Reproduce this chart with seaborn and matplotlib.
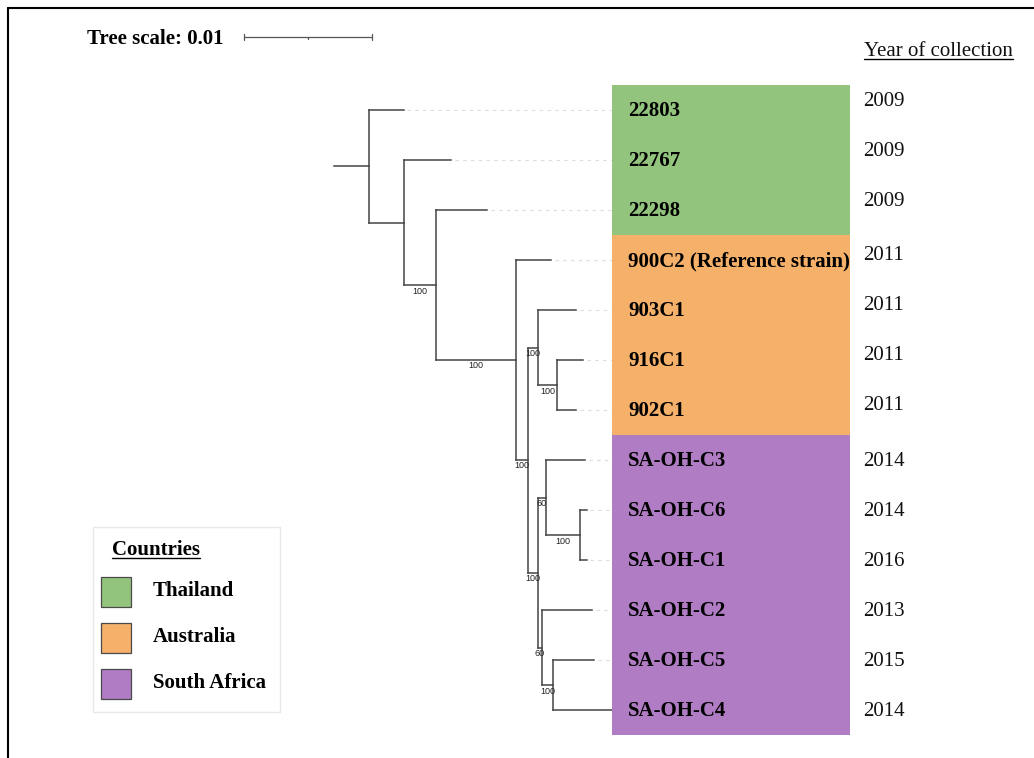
import numpy as np
import pandas as pd
import matplotlib
matplotlib.use("Agg")
import matplotlib.pyplot as plt
from matplotlib.transforms import Affine2D
from matplotlib.patches import Rectangle
from matplotlib.lines import Line2D
import seaborn as sns

# ---------------- tree: parent / branch-length table (tips in drawing order) ----------------
node_ids = ["n0", "22803", "n1", "22767", "n2", "22298", "n3",
            "900C2 (Reference strain)", "n4", "n5", "903C1", "n6", "916C1", "902C1",
            "n7", "n8", "SA-OH-C3", "n9", "SA-OH-C6", "SA-OH-C1",
            "n10", "SA-OH-C2", "n11", "SA-OH-C5", "SA-OH-C4"]
node_parent = [None, "n0", "n0", "n1", "n1", "n2", "n2",
               "n3", "n3", "n4", "n5", "n5", "n6", "n6",
               "n4", "n7", "n8", "n8", "n9", "n9",
               "n7", "n10", "n10", "n11", "n11"]
branch_length = [0.0027, 0.0027, 0.0027, 0.0037, 0.0025, 0.0040, 0.0063,
                 0.0027, 0.0009, 0.0008, 0.0030, 0.0015, 0.0020, 0.0015,
                 0.0008, 0.0006, 0.0031, 0.0027, 0.0005, 0.0005,
                 0.0003, 0.0039, 0.0009, 0.0032, 0.0046]
bootstrap = [None, None, None, None, 100, None, 100,
             None, 100, 100, None, 100, None, None,
             100, 60, None, 100, None, None,
             60, None, 100, None, None]

# ---------------- tip metadata ----------------
leaf_names = ["22803", "22767", "22298", "900C2 (Reference strain)", "903C1", "916C1",
              "902C1", "SA-OH-C3", "SA-OH-C6", "SA-OH-C1", "SA-OH-C2", "SA-OH-C5", "SA-OH-C4"]
leaf_country = ["Thailand", "Thailand", "Thailand", "Australia", "Australia", "Australia",
                "Australia", "South Africa", "South Africa", "South Africa", "South Africa",
                "South Africa", "South Africa"]
leaf_year = [2009, 2009, 2009, 2011, 2011, 2011, 2011, 2014, 2014, 2016, 2013, 2015, 2014]

countries = ["Thailand", "Australia", "South Africa"]
country_colors = ["#93c47d", "#f5b06a", "#b07cc4"]
scale_length = 0.01

# ---------------- style / layout ----------------
W, H = 1034, 758
px_per_unit = 12800          # horizontal pixels per substitution/site
root_px = 369                # x of root node
row_px, first_row_px = 50, 110
block_w_px = 238
year_shift_px = [-10, -10, -10, -7, -7, -7, -7, 0, 0, 0, 0, 0, 0]
serif = "Liberation Serif"
fs = 15
line_col = "#444444"

sns.set_theme(style="white")
plt.rcParams["font.family"] = [serif, "DejaVu Serif"]
plt.rcParams["text.color"] = "black"

# ---------------- tree layout ----------------
children = {n: [] for n in node_ids}
for n, p in zip(node_ids, node_parent):
    if p is not None:
        children[p].append(n)

depth = {}
for n, p, bl in zip(node_ids, node_parent, branch_length):
    depth[n] = 0.0 if p is None else depth[p] + bl

ypos = {n: float(i) for i, n in enumerate(leaf_names)}
for n in reversed(node_ids):
    if children[n]:
        ypos[n] = float(np.mean([ypos[c] for c in children[n]]))
max_depth = max(depth[n] for n in leaf_names)

fig = plt.figure(figsize=(W / 100, H / 100), dpi=100)
fig.patch.set_facecolor("white")
pix = Affine2D().scale(1 / W, -1 / H).translate(0, 1) + fig.transFigure

ax = fig.add_axes([0, 0, 1, 1])
ax.set_xlim(-root_px / px_per_unit, (W - root_px) / px_per_unit)
ylim = ((H - first_row_px) / row_px, -first_row_px / row_px)
ax.set_ylim(*ylim)
ax.axis("off")

lw = 1.1
# root stub
root = node_ids[0]
ax.plot([-branch_length[0], 0], [ypos[root]] * 2, color=line_col, lw=lw,
        solid_capstyle="projecting")
for n, p in zip(node_ids, node_parent):
    if p is None:
        continue
    ax.plot([depth[p], depth[n]], [ypos[n]] * 2, color=line_col, lw=lw,
            solid_capstyle="projecting")
for n in node_ids:
    if children[n]:
        ys = [ypos[c] for c in children[n]]
        ax.plot([depth[n]] * 2, [min(ys), max(ys)], color=line_col, lw=lw,
                solid_capstyle="projecting")

# dashed leaders to the aligned label column
for n in leaf_names:
    if depth[n] < max_depth:
        ax.plot([depth[n] + 0.0003, max_depth], [ypos[n]] * 2, color="#dcdcdc",
                lw=0.8, dashes=(3, 4))

# bootstrap support labels
for n, p, b in zip(node_ids, node_parent, bootstrap):
    if b is None:
        continue
    ax.text((depth[p] + depth[n]) / 2, ypos[n] + 0.03, f"{b}", ha="center", va="top",
            fontsize=6.5, family="Liberation Sans", color="#222222")

# tree scale bar
sb_x0 = (244 - root_px) / px_per_unit
sb_y = (37 - first_row_px) / row_px
tick = 3 / row_px
ax.plot([sb_x0, sb_x0 + scale_length], [sb_y, sb_y], color="#555555", lw=0.9)
for xx in (sb_x0, sb_x0 + scale_length):
    ax.plot([xx, xx], [sb_y - tick, sb_y + tick], color="#555555", lw=0.9)
ax.plot([sb_x0 + scale_length / 2] * 2, [sb_y, sb_y + tick * 0.7], color="#555555", lw=0.9)
fig.text(87, 43.5, f"Tree scale: {scale_length:g}", transform=pix, ha="left",
         va="baseline", fontsize=fs, fontweight="bold")

# ---------------- country colour strip ----------------
left_px = ax.transData.transform((max_depth, 0))[0]
axb = fig.add_axes([left_px / W, 0, block_w_px / W, 1])
df = pd.DataFrame({"strain": leaf_names, "country": leaf_country,
                   "span": np.ones(len(leaf_names))})
sns.barplot(data=df, x="span", y="strain", hue="country", hue_order=countries,
            palette=dict(zip(countries, country_colors)), orient="h", width=1.0,
            dodge=False, saturation=1, legend=False, linewidth=0, ax=axb)
axb.set_xlim(0, 1)
axb.set_ylim(*ylim)
axb.axis("off")

for i, (name, yr) in enumerate(zip(leaf_names, leaf_year)):
    axb.text(16 / block_w_px, i + 6.5 / row_px, name, ha="left", va="baseline",
             fontsize=fs, fontweight="bold", color="black")
    axb.text(1 + 13 / block_w_px, i + (6.5 + year_shift_px[i]) / row_px, str(yr),
             ha="left", va="baseline", fontsize=fs, color="#111111", clip_on=False)

# ---------------- header and legend ----------------
def underline(t, base_px, color="black", lw=1.0):
    fig.canvas.draw()
    bb = t.get_window_extent()
    y = H - (base_px + 3)
    fig.add_artist(Line2D([bb.x0, bb.x1], [y, y], transform=None, color=color, lw=lw))

hdr = fig.text(864, 55.5, "Year of collection", transform=pix, ha="left",
               va="baseline", fontsize=fs, color="#111111")
underline(hdr, 55.5)

fig.add_artist(Rectangle((93, 527), 187, 185, transform=pix, facecolor="white",
                         edgecolor="#e8e8e8", lw=1))
ttl = fig.text(112, 555, "Countries", transform=pix, ha="left", va="baseline",
               fontsize=fs, fontweight="bold")
underline(ttl, 555)
for k, (c, col) in enumerate(zip(countries, country_colors)):
    top = 577 + k * 46
    fig.add_artist(Rectangle((101, top), 30, 30, transform=pix, facecolor=col,
                             edgecolor="#4a4a4a", lw=0.9))
    fig.text(153, top + 18.5, c, transform=pix, ha="left", va="baseline",
             fontsize=fs, fontweight="bold")

# ---------------- frame ----------------
fig.add_artist(Line2D([8, W], [8, 8], transform=pix, color="black", lw=1.5))
fig.add_artist(Line2D([8, 8], [8, H], transform=pix, color="black", lw=1.5))

fig.savefig("out.png", dpi=100, facecolor="white")
